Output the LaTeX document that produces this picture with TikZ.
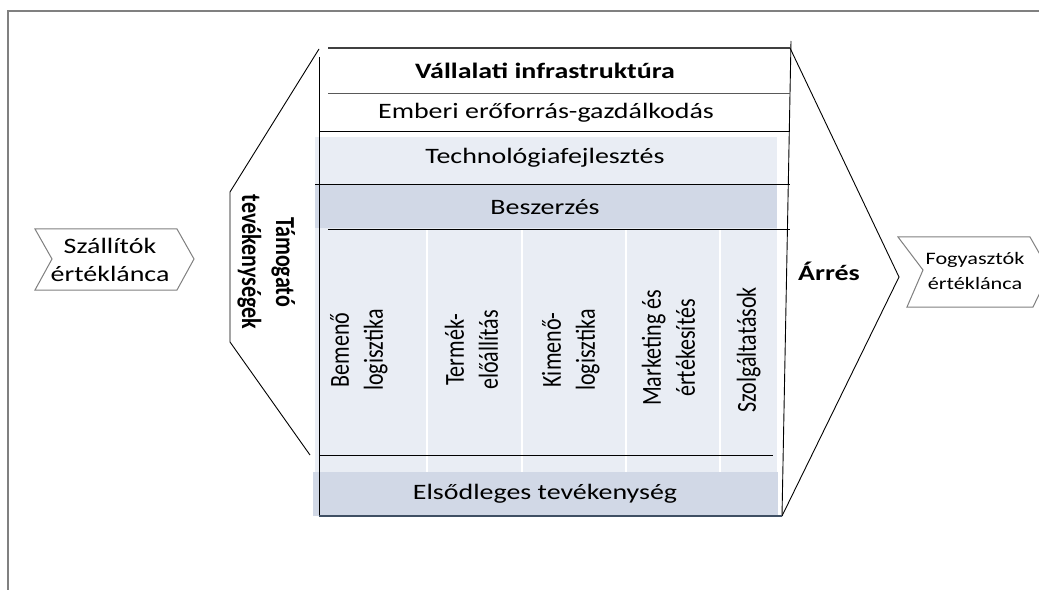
\documentclass[tikz,border=0pt]{standalone}
\usepackage{fontspec}
\usepackage{graphicx}
\setmainfont{Carlito}
\newfontfamily\cw[FakeStretch=1.27]{Carlito}
\definecolor{lightband}{HTML}{E9EDF4}
\definecolor{darkband}{HTML}{D1D8E6}
\definecolor{frameg}{HTML}{808080}
\definecolor{botline}{HTML}{3F4F63}
\newcommand\rs[1]{\scalebox{1}[1.25]{\begin{tabular}{@{}c@{}}#1\end{tabular}}}
\tikzset{
  htxt/.style={inner sep=0pt, align=center, font={\cw\fontsize{22bp}{28bp}\selectfont}},
  smalltxt/.style={inner sep=0pt, align=center, font={\cw\fontsize{17.5bp}{25bp}\selectfont}},
  rtxt/.style={inner sep=0pt, font={\fontsize{22bp}{27.2bp}\selectfont}},
  thinline/.style={draw=black, line width=0.9bp},
  chev/.style={draw=frameg, line width=1bp},
}
\begin{document}
\begin{tikzpicture}[x=1bp,y=-1bp]
\useasboundingbox (0,0) rectangle (1039,590);
\clip (0,0) rectangle (1039,590);
\fill[white] (0,0) rectangle (1039,590);
% outer frame
\draw[frameg, line width=1.5bp] (8,590) -- (8,11) -- (1039,11);
% fills
\fill[lightband] (315,137) rectangle (777,472);
\fill[darkband] (315,184) rectangle (777,228);
\fill[darkband] (313,472) rectangle (778,516);
% white separators
\foreach \xx in {427,522,626,720} \draw[white, line width=1.2bp] (\xx,229) -- (\xx,472);
% support chevron (left) and margin chevron (right)
\draw[thinline] (319,49) -- (230,192) -- (230,342) -- (310,455);
\draw[thinline] (790,48) -- (899,277) -- (782,516);
% main frame lines
\draw[thinline] (319,57) -- (319,516);
\draw[thinline] (791,41) -- (782,516);
\draw[draw=black!75, line width=1.2bp] (328,48) -- (790,48);
\draw[draw=black!65, line width=1bp] (328,94) -- (790,94);
\draw[thinline] (319,131) -- (790,131);
\draw[thinline] (315,184) -- (790,184);
\draw[thinline] (328,229) -- (790,229);
\draw[thinline] (319,455) -- (773,455);
\draw[botline, line width=1.2bp] (319,516) -- (782,516);
% side chevrons
\draw[chev] (35,229) -- (177,229) -- (194,259) -- (177,290) -- (35,290) -- (52,259) -- cycle;
\draw[chev] (898,237) -- (1030,237) -- (1050,272) -- (1033,307) -- (907,307) -- (923,270) -- cycle;
% texts
\node[htxt, font={\cw\bfseries\fontsize{22bp}{28bp}\selectfont}] (infra) at (545,71) {Vállalati infrastruktúra};
\node[htxt] (hr) at (546,113) {Emberi erőforrás-gazdálkodás};
\node[htxt] (tech) at (545,158) {Technológiafejlesztés};
\node[htxt] (procure) at (545,207) {Beszerzés};
\node[htxt] (primary) at (545,494) {Elsődleges tevékenység};
\node[htxt, font={\cw\bfseries\fontsize{22bp}{28bp}\selectfont}] (margin) at (829,271) {Árrés};
\node[htxt] (suppliers) at (110,260) {Szállítók\\értéklánca};
\node[smalltxt] (customers) at (975,271) {Fogyasztók\\értéklánca};
\node[rtxt, font={\bfseries\fontsize{22bp}{27.2bp}\selectfont}, rotate=-90] (support) at (266,262) {\rs{Támogató\\tevékenységek}};
\node[rtxt, rotate=90] (inbound) at (359,350) {\rs{Bemenő\\logisztika}};
\node[rtxt, rotate=90] (ops) at (474,350) {\rs{Termék-\\előállítás}};
\node[rtxt, rotate=90] (outbound) at (571,350) {\rs{Kimenő-\\logisztika}};
\node[rtxt, rotate=90] (marketing) at (671,348) {\rs{Marketing és\\értékesítés}};
\node[rtxt, rotate=90] (service) at (749,350) {\rs{Szolgáltatások}};
\end{tikzpicture}
\end{document}
